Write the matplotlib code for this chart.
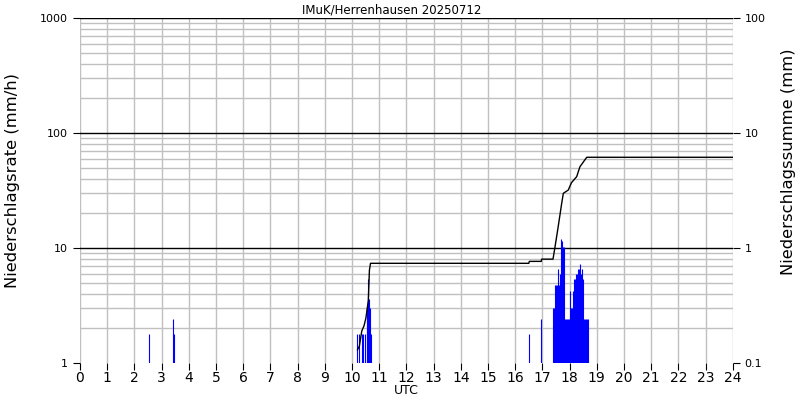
import matplotlib
matplotlib.use("Agg")
import matplotlib.pyplot as plt
import matplotlib.ticker as mticker
import numpy as np

plt.rcParams['font.family'] = 'DejaVu Sans'

# rain rate (mm/h), time in minutes of day
rate_min = [153, 205, 208,
            612, 616, 621, 625, 629, 632, 634, 636, 638, 640, 642,
            991, 1018,
            1044, 1046, 1048, 1050, 1052, 1054, 1056, 1058, 1060, 1062,
            1064, 1066, 1068, 1070, 1072, 1074, 1076, 1078, 1080, 1082,
            1084, 1086, 1088, 1090, 1092, 1094, 1096, 1098, 1100, 1102,
            1104, 1106, 1108, 1110, 1112, 1114, 1116, 1118, 1120]
rate_val = [1.8, 2.4, 1.8,
            1.8, 1.8, 1.8, 1.8, 1.8, 2.4, 3.0, 5.4, 3.6, 3.0, 1.8,
            1.8, 2.4,
            3.0, 3.0, 4.8, 4.8, 4.8, 6.6, 4.8, 6.0, 4.8, 12.0,
            11.4, 10.2, 10.2, 2.4, 2.4, 2.4, 2.4, 2.4, 4.2, 2.4,
            3.0, 3.0, 4.2, 5.4, 5.4, 6.0, 6.0, 6.6, 6.6, 7.2,
            6.0, 6.0, 6.6, 5.4, 2.4, 2.4, 2.4, 2.4, 2.4]

# accumulated precipitation (mm), time in hours
sum_hour = [10.20, 10.27, 10.36, 10.44, 10.51, 10.60, 10.64, 10.68,
            16.50, 16.52, 16.96, 16.97, 17.39, 17.46, 17.58, 17.71,
            17.77, 17.95, 18.07, 18.26, 18.38, 18.63, 24.0]
sum_val = [0.13, 0.14, 0.19, 0.21, 0.245, 0.35, 0.64, 0.736,
           0.736, 0.765, 0.765, 0.80, 0.80, 1.01, 1.53, 2.45,
           2.99, 3.19, 3.7, 4.17, 5.09, 6.15, 6.15]

hours = list(range(25))

fig = plt.figure(figsize=(8, 4), dpi=100)
ax = fig.add_axes([0.1, 0.0925, 0.816, 0.8625])

ax.set_yscale('log')
ax.set_xlim(0, 24)
ax.set_ylim(1, 1000)

ax.vlines(np.array(rate_min) / 60.0, 1, rate_val, color='#0000ff', lw=0.8, zorder=3)

# grid
ax.set_xticks(hours)
ax.xaxis.grid(True, color='#c0c0c0', lw=1)
ax.yaxis.set_minor_locator(mticker.LogLocator(base=10, subs=np.arange(2, 10)))
ax.yaxis.grid(True, which='minor', color='#c0c0c0', lw=1)
for v in [10, 100, 1000]:
    ax.axhline(v, color='black', lw=1, zorder=2)
ax.set_axisbelow(True)

for s in ax.spines.values():
    s.set_visible(False)

ax.yaxis.set_major_formatter(mticker.FuncFormatter(lambda v, p: '%g' % v))
ax.yaxis.set_minor_formatter(mticker.NullFormatter())
ax.tick_params(axis='y', which='minor', length=0)
ax.tick_params(axis='y', which='major', labelsize=8, length=5, direction='out')
ax.tick_params(axis='x', labelsize=10, length=5, direction='out', pad=1)
ax.set_xlabel('UTC', fontsize=9, labelpad=-1)

ax2 = ax.twinx()
ax2.set_yscale('log')
ax2.set_ylim(0.1, 100)
ax2.plot(sum_hour, sum_val, color='black', lw=1)
for s in ax2.spines.values():
    s.set_visible(False)
ax2.yaxis.set_major_formatter(mticker.FuncFormatter(lambda v, p: '%g' % v))
ax2.yaxis.set_minor_formatter(mticker.NullFormatter())
ax2.tick_params(axis='y', which='minor', length=0)
ax2.tick_params(axis='y', which='major', labelsize=8, length=5, direction='out')

fig.text(0.489, 0.975, 'IMuK/Herrenhausen 20250712', fontsize=8.5,
         ha='center', va='center')
fig.text(0.016, 0.55, 'Niederschlagsrate (mm/h)', rotation=90, fontsize=11.8,
         ha='center', va='center')
fig.text(0.986, 0.595, 'Niederschlagssumme (mm)', rotation=90, fontsize=11.8,
         ha='center', va='center')

fig.savefig('out.png', dpi=100)
